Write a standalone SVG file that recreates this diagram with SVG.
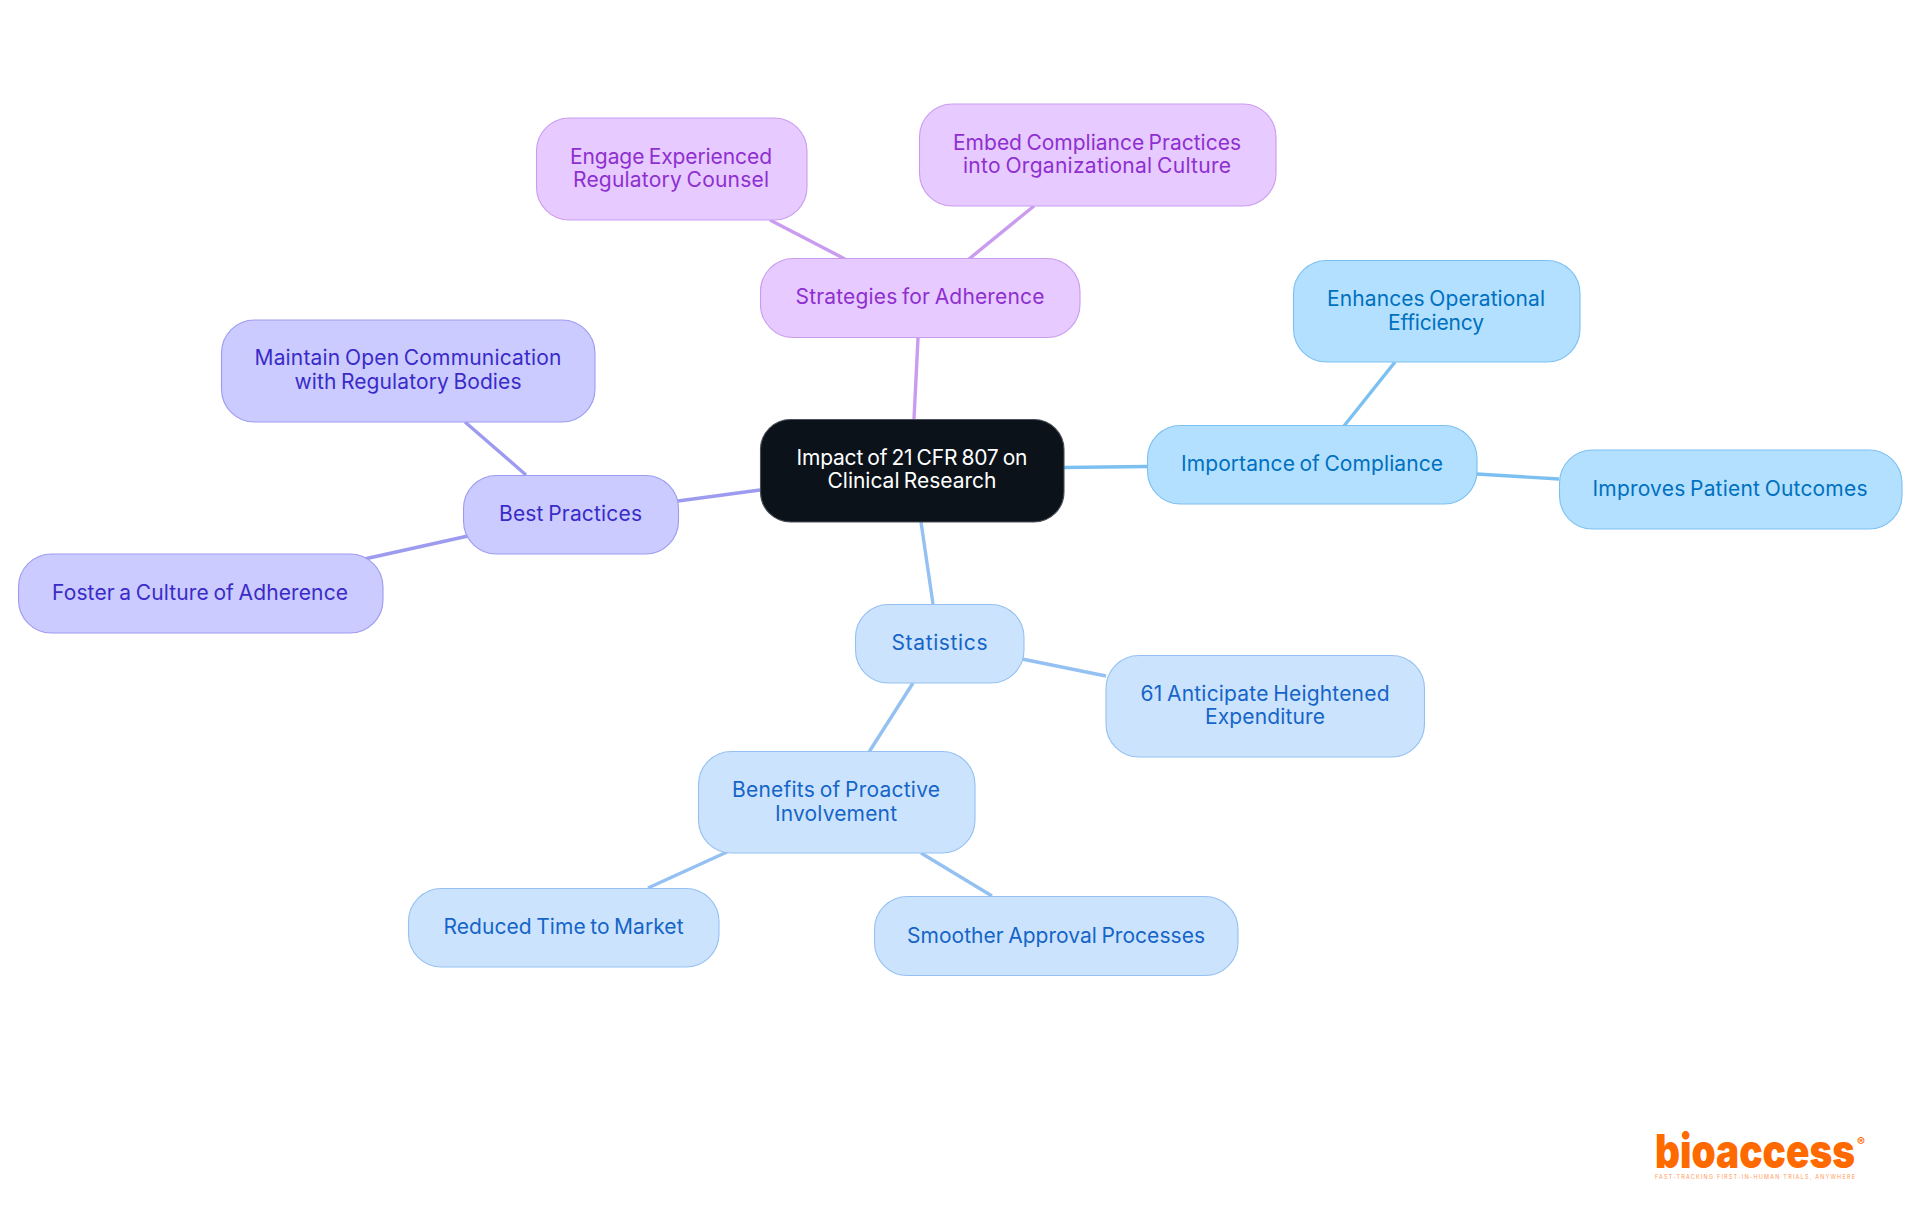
<svg xmlns="http://www.w3.org/2000/svg" width="1920" height="1215" viewBox="0 0 1920 1215">
<style>
text{font-family:"Inter","Noto Sans","Liberation Sans",sans-serif;font-size:21px;text-anchor:middle;word-spacing:-1.5px}
.n rect{stroke-width:1.1}
.c line{stroke-width:3.4;fill:none}
.sky rect{fill:#b3e0ff;stroke:#7cc0f2}.sky text{fill:#0070c0}
.blue rect{fill:#cce3fd;stroke:#94c1f2}.blue text{fill:#1565c8}
.ind rect{fill:#cbcbff;stroke:#9d9bf0}.ind text{fill:#3a2bc8}
.pur rect{fill:#e7caff;stroke:#c99cf0}.pur text{fill:#8e2fd0}
#root rect{fill:#0b121a;stroke:#4a5058}#root text{fill:#fff}
</style>
<g id="connectors" class="c">
<line x1="1064" y1="467.500" x2="1147" y2="466.500" stroke="#7cc0f2"/>
<line x1="1344" y1="426" x2="1395" y2="362" stroke="#7cc0f2"/>
<line x1="1477" y1="474" x2="1559" y2="479" stroke="#7cc0f2"/>
<line x1="921" y1="522" x2="933" y2="604" stroke="#94c1f2"/>
<line x1="1022" y1="659" x2="1106" y2="676" stroke="#94c1f2"/>
<line x1="913" y1="683" x2="869" y2="752" stroke="#94c1f2"/>
<line x1="727" y1="852" x2="648" y2="888" stroke="#94c1f2"/>
<line x1="921" y1="853" x2="992" y2="896" stroke="#94c1f2"/>
<line x1="760" y1="490" x2="678" y2="501" stroke="#9d9bf0"/>
<line x1="526" y1="475" x2="465" y2="422" stroke="#9d9bf0"/>
<line x1="468" y1="536" x2="360" y2="560" stroke="#9d9bf0"/>
<line x1="914" y1="419" x2="918" y2="338" stroke="#c99cf0"/>
<line x1="845" y1="259" x2="770" y2="220" stroke="#c99cf0"/>
<line x1="969" y1="259" x2="1034" y2="206" stroke="#c99cf0"/>
</g>
<g id="root" class="n"><rect x="760.500" y="419.500" width="303.500" height="102.500" rx="30"/><text x="912" y="465" textLength="231">Impact of 21 CFR 807 on</text><text x="912" y="488" textLength="169">Clinical Research</text></g>
<g id="compliance" class="n sky"><rect x="1147.500" y="425.500" width="329.500" height="78.500" rx="33"/><text x="1312" y="471" textLength="262">Importance of Compliance</text></g>
<g id="efficiency" class="n sky"><rect x="1293.500" y="260.500" width="286.500" height="101.500" rx="33"/><text x="1436" y="306" textLength="218">Enhances Operational</text><text x="1436" y="330" textLength="96">Efficiency</text></g>
<g id="outcomes" class="n sky"><rect x="1559.500" y="450" width="342.500" height="79" rx="33"/><text x="1730" y="496" textLength="275">Improves Patient Outcomes</text></g>
<g id="statistics" class="n blue"><rect x="855.500" y="604.500" width="168.500" height="78.500" rx="33"/><text x="939.500" y="650" textLength="96">Statistics</text></g>
<g id="expenditure" class="n blue"><rect x="1106" y="655.500" width="318.500" height="101.500" rx="33"/><text x="1265" y="701" textLength="249">61 Anticipate Heightened</text><text x="1265" y="724" textLength="120">Expenditure</text></g>
<g id="benefits" class="n blue"><rect x="698.500" y="751.500" width="276.500" height="101.500" rx="33"/><text x="836" y="797" textLength="208">Benefits of Proactive</text><text x="836" y="821" textLength="122">Involvement</text></g>
<g id="market" class="n blue"><rect x="408.500" y="888.500" width="310.500" height="78.500" rx="33"/><text x="563.500" y="934" textLength="240">Reduced Time to Market</text></g>
<g id="approval" class="n blue"><rect x="874.500" y="896.500" width="363.500" height="79" rx="33"/><text x="1056" y="942.500" textLength="298">Smoother Approval Processes</text></g>
<g id="best" class="n ind"><rect x="463.500" y="475.500" width="215" height="78.500" rx="33"/><text x="570.500" y="521" textLength="143">Best Practices</text></g>
<g id="communication" class="n ind"><rect x="221.500" y="320" width="373.500" height="102" rx="33"/><text x="408" y="365" textLength="307">Maintain Open Communication</text><text x="408" y="389" textLength="227">with Regulatory Bodies</text></g>
<g id="culture" class="n ind"><rect x="18.500" y="554" width="364.500" height="79" rx="33"/><text x="200" y="600" textLength="296">Foster a Culture of Adherence</text></g>
<g id="strategies" class="n pur"><rect x="760.500" y="258.500" width="319.500" height="79" rx="33"/><text x="920" y="304" textLength="249">Strategies for Adherence</text></g>
<g id="counsel" class="n pur"><rect x="536.500" y="118" width="270.500" height="102" rx="33"/><text x="671" y="164" textLength="202">Engage Experienced</text><text x="671" y="187" textLength="196">Regulatory Counsel</text></g>
<g id="embed" class="n pur"><rect x="919.500" y="104" width="356.500" height="102" rx="33"/><text x="1097" y="150" textLength="288">Embed Compliance Practices</text><text x="1097" y="173" textLength="268">into Organizational Culture</text></g>
<g id="logo">
<text x="1655" y="1168" style="font-size:47px;font-weight:900;text-anchor:start;fill:#ff6a00;word-spacing:0" textLength="200" lengthAdjust="spacingAndGlyphs">bioaccess</text>
<text x="1861" y="1146" style="font-size:12px;font-weight:700;fill:#ff6a00;word-spacing:0">®</text>
<text x="1655" y="1179" style="font-size:5.500px;text-anchor:start;fill:#ff9a55;word-spacing:0" textLength="200">FAST-TRACKING FIRST-IN-HUMAN TRIALS, ANYWHERE</text>
</g>
</svg>
